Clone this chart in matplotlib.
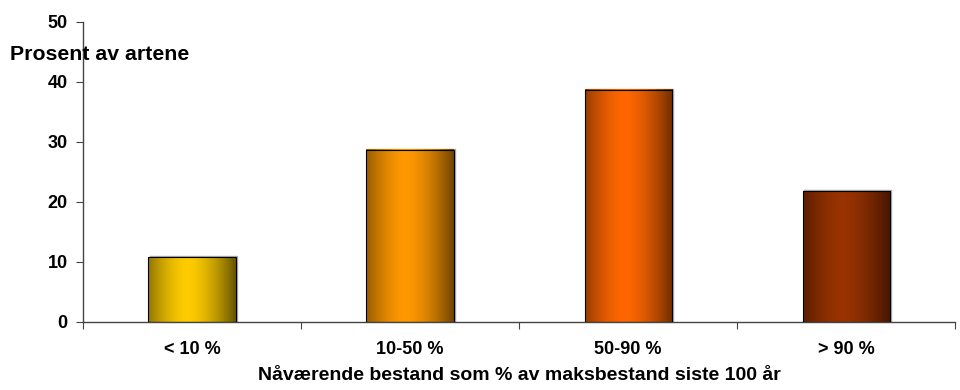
import numpy as np
import matplotlib.pyplot as plt
from matplotlib.colors import to_rgb

# andel arter etter dagens bestand i forhold til maks siste 100 år
kategorier = ['< 10 %', '10-50 %', '50-90 %', '> 90 %']
andel = [10.8, 28.7, 38.7, 21.8]
lys_farge = ['#FFCC00', '#FF9900', '#FF6600', '#993300']
mork_farge = ['#665500', '#704400', '#6E2D00', '#441500']

plt.rcParams['font.family'] = ['Liberation Sans', 'DejaVu Sans']
plt.rcParams['font.weight'] = 'bold'

fig = plt.figure(figsize=(9.6, 3.9), dpi=100)
ax = fig.add_axes([0.0865, 0.1744, 0.9085, 0.7692])

x = np.arange(len(kategorier))
bars = ax.bar(x, andel, width=0.4, facecolor='none', edgecolor='black',
              linewidth=0.8, zorder=3)

# horisontal gradient: mørk i kantene, lys litt til venstre for midten
t = np.linspace(0, 1, 200)
profil = np.clip(1 - np.abs((t - 0.45) / 0.55) ** 1.6, 0, 1)
for b, lys, mork in zip(bars, lys_farge, mork_farge):
    l = np.array(to_rgb(lys))
    m = np.array(to_rgb(mork))
    img = m[None, :] + profil[:, None] * (l - m)[None, :]
    img = img[None, :, :]
    x0 = b.get_x()
    x1 = x0 + b.get_width()
    h = b.get_height()
    ax.imshow(img, extent=[x0, x1, 0, h],
              aspect='auto', zorder=2, interpolation='bilinear')
    # svak grå skygge oppe og til høyre
    ax.plot([x0 + 0.005, x1 + 0.005, x1 + 0.005], [h + 0.2, h + 0.2, 0],
            color='#aaaaaa', lw=1.0, zorder=1)

ax.set_xlim(-0.5, 3.5)
ax.set_ylim(0, 50)
ax.set_yticks([0, 10, 20, 30, 40, 50])
ax.set_xticks(np.arange(-0.5, 4.0, 1.0))
ax.set_xticklabels([])
ax.set_xticks(x, minor=True)
ax.set_xticklabels(kategorier, minor=True)
ax.tick_params(axis='x', which='minor', length=0, pad=14, labelsize=13)
ax.tick_params(axis='x', which='major', length=5, direction='out', color='#444444')
ax.tick_params(axis='y', length=5, direction='out', labelsize=13, pad=6, color='#444444')

for s in ['top', 'right']:
    ax.spines[s].set_visible(False)
for s in ['left', 'bottom']:
    ax.spines[s].set_color('#444444')
    ax.spines[s].set_linewidth(1.0)

fig.text(10 / 960, 1 - 55 / 390, 'Prosent av artene', fontsize=15.3,
         fontweight='bold', ha='left', va='center')
fig.text(519 / 960, 1 - 376 / 390, 'Nåværende bestand som % av maksbestand siste 100 år',
         fontsize=14, fontweight='bold', ha='center', va='center')

fig.savefig('out.png', dpi=100)
